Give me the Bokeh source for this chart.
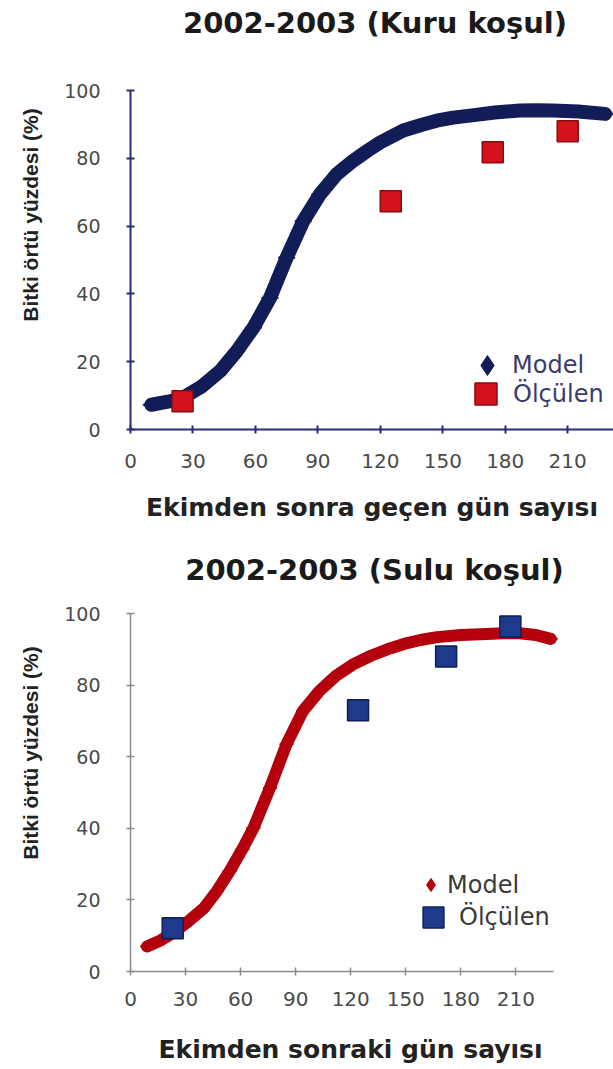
import math
from bokeh.plotting import figure
from bokeh.models import Range1d, FixedTicker, Legend, LegendItem, Label
from bokeh.embed import file_html
from bokeh.resources import INLINE

# ---------------- data ----------------
x_ticks = [0, 30, 60, 90, 120, 150, 180, 210]
y_ticks = [0, 20, 40, 60, 80, 100]

titles = ["2002-2003 (Kuru koşul)", "2002-2003 (Sulu koşul)"]
x_titles = ["Ekimden sonra geçen gün sayısı", "Ekimden sonraki gün sayısı"]
y_title = "Bitki örtü yüzdesi (%)"
series_names = ["Model", "Ölçülen"]

# Kuru (dry) condition
kuru_model_day = [10, 18, 25, 34, 43, 51, 59, 67, 75, 83, 91, 99, 107, 114, 120,
                  131, 140, 147, 155, 163, 175, 187, 195, 203, 215, 228]
kuru_model_val = [7.3, 8.2, 9.3, 12.6, 17.2, 23.1, 30.0, 38.8, 50.7, 61.5, 69.4,
                  75.3, 79.3, 82.3, 84.7, 88.2, 89.9, 91.1, 92.0, 92.6, 93.5,
                  94.1, 94.2, 94.1, 93.8, 93.1]
kuru_obs_day = [25, 125, 174, 210]
kuru_obs_val = [8.3, 67.3, 81.8, 88.0]

# Sulu (irrigated) condition
sulu_model_day = [9, 16, 23, 31, 40, 47, 54, 61, 67, 76, 85, 94, 103, 112, 121,
                  131, 140, 149, 158, 167, 180, 194, 203, 212, 221, 229]
sulu_model_val = [7.0, 8.6, 10.7, 13.8, 17.7, 22.4, 28.0, 34.2, 40.1, 51.3, 63.5,
                  72.8, 78.4, 82.6, 85.7, 88.2, 90.0, 91.5, 92.6, 93.4, 94.0,
                  94.3, 94.5, 94.5, 94.0, 92.9]
sulu_obs_day = [23, 124, 172, 207]
sulu_obs_val = [12.1, 73.0, 88.0, 96.4]

Y_MAX = 100  # top of the value axis


def make_panel(title, title_pos, x_title, x_end, axis_px, fig_w, height, borders, top_gap,
               axis_color, axis_width, tick_standoff, xlabel_standoff,
               model_day, model_val, model_color, model_lw, model_size,
               obs_day, obs_val, obs_fill, obs_line, obs_size,
               legend_text_color, leg_model, leg_obs):
    left, bottom = borders
    frame_h = height - bottom
    frame_w = fig_w - left
    # extend the value range above 100 so the title sits inside the frame
    y_end = Y_MAX * frame_h / (frame_h - top_gap)
    # extend the day range past the drawn axis so the title is not clipped
    x_view = x_end * frame_w / axis_px
    p = figure(width=fig_w, height=height, output_backend="svg", toolbar_location=None,
               x_range=Range1d(0, x_view), y_range=Range1d(0, y_end))
    p.min_border_left = left
    p.min_border_right = 0
    p.min_border_top = 0
    p.min_border_bottom = bottom
    p.outline_line_color = None
    p.background_fill_color = "white"
    p.border_fill_color = "white"
    p.xgrid.grid_line_color = None
    p.ygrid.grid_line_color = None

    p.add_layout(Label(x=title_pos[0], y=frame_h - title_pos[1], x_units="screen",
                       y_units="screen", text=title, text_align="center",
                       text_baseline="middle", text_font="DejaVu Sans",
                       text_font_style="bold", text_font_size="29px",
                       text_color="#1a1a1a"))

    for ax in (p.xaxis[0], p.yaxis[0]):
        ax.axis_line_color = axis_color
        ax.axis_line_width = axis_width
        ax.major_tick_line_color = axis_color
        ax.major_tick_line_width = axis_width
        ax.major_tick_in = 4
        ax.major_tick_out = 4
        ax.minor_tick_line_color = None
        ax.major_label_text_font = "DejaVu Sans"
        ax.major_label_text_color = "#4a4a4a"

    xa = p.xaxis[0]
    xa.ticker = FixedTicker(ticks=x_ticks)
    xa.bounds = (0, x_end)
    xa.major_label_text_font_size = "20px"
    xa.major_label_standoff = tick_standoff
    xa.axis_label = x_title
    xa.axis_label_text_font = "DejaVu Sans"
    xa.axis_label_text_font_style = "bold"
    xa.axis_label_text_font_size = "25px"
    xa.axis_label_text_color = "#222222"
    xa.axis_label_standoff = xlabel_standoff

    ya = p.yaxis[0]
    ya.ticker = FixedTicker(ticks=y_ticks)
    ya.bounds = (0, Y_MAX)
    ya.major_label_text_font_size = "19px"
    ya.major_label_standoff = 26
    ya.axis_label = y_title
    ya.axis_label_text_font = "Liberation Sans"
    ya.axis_label_text_font_style = "bold"
    ya.axis_label_text_font_size = "21px"
    ya.axis_label_text_color = "#222222"
    ya.axis_label_standoff = 19

    p.line(model_day, model_val, line_width=model_lw, line_color=model_color,
           line_join="round", line_cap="round")
    r_model = p.scatter(model_day, model_val, marker="diamond", size=model_size,
                        angle=math.pi / 2, fill_color=model_color, line_color=model_color)
    r_obs = p.scatter(obs_day, obs_val, marker="square", size=obs_size,
                      fill_color=obs_fill, line_color=obs_line, line_width=1.5)

    for (name, rend, spec) in ((series_names[0], r_model, leg_model),
                               (series_names[1], r_obs, leg_obs)):
        loc, box, standoff = spec
        leg = Legend(items=[LegendItem(label=name, renderers=[rend])],
                     location=loc, glyph_width=box, glyph_height=box,
                     label_standoff=standoff, padding=0, margin=0, spacing=0,
                     border_line_color=None, background_fill_alpha=0,
                     label_text_font="DejaVu Sans", label_text_font_size="24px",
                     label_text_color=legend_text_color, label_height=box)
        p.add_layout(leg)
    return p


p1 = make_panel(titles[0], (244.5, 22), x_titles[0], 232, 483, 613, 534, (130, 105), 90,
                "#2b2b7a", 2, 20, 22,
                kuru_model_day, kuru_model_val, "#121d57", 14, 17,
                kuru_obs_day, kuru_obs_val, "#d3121c", "#8a0a10", 21,
                "#3b3b6b", ((332, 39), 50, -9), ((328, 8), 55, -15))

p2 = make_panel(titles[1], (244, 35), x_titles[1], 230.5, 423, 570, 535, (130, 98), 79,
                "#8c8c8c", 1.5, 16, 26,
                sulu_model_day, sulu_model_val, "#b3000c", 12, 14,
                sulu_obs_day, sulu_obs_val, "#1d3a8c", "#0d1f55", 21,
                "#3a3a3a", ((284, 70), 33, 0), ((277, 28), 52, -9))

open("out.html", "w").write(file_html([p1, p2], INLINE))
